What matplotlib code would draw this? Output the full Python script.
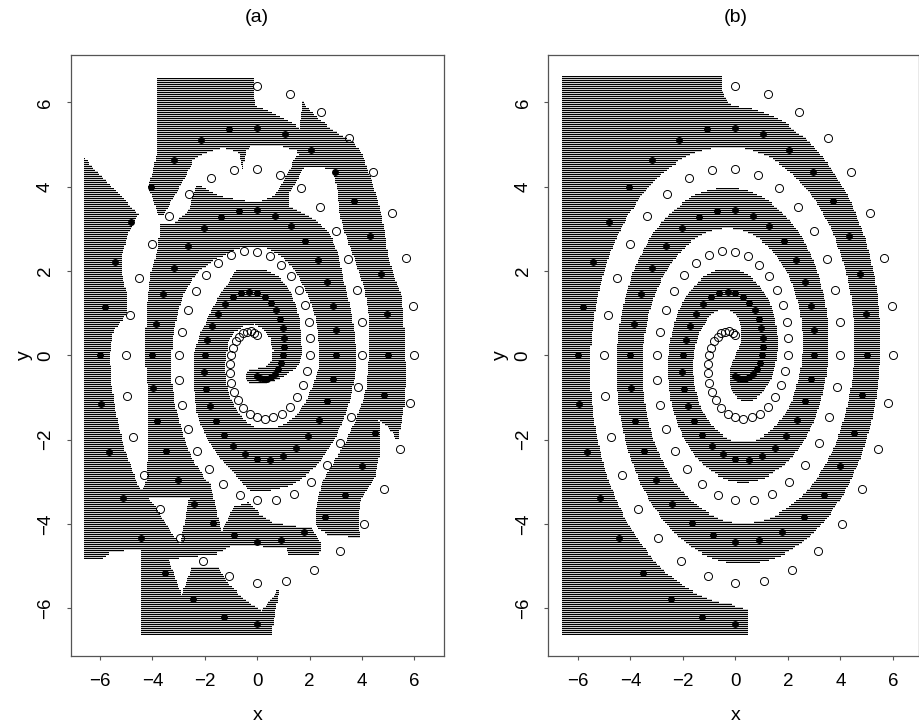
import numpy as np
import matplotlib
matplotlib.use("Agg")
import matplotlib.pyplot as plt
from matplotlib.path import Path

plt.rcParams['font.family'] = ['Liberation Sans Narrow', 'Liberation Sans', 'DejaVu Sans']

# ---------------- data: the two spirals ----------------
open_x = [0.00, 1.26, 2.44, 3.51, 4.42, 5.14, 5.66, 5.95, 6.00, 5.82, 5.43, 4.83, 4.07, 3.16, 2.15, 1.09,
          0.00, -1.06, -2.06, -2.95, -3.71, -4.31, -4.73, -4.97, -5.00, -4.84, -4.50, -4.00, -3.36, -2.60,
          -1.77, -0.89, 0.00, 0.87, 1.67, 2.40, 3.01, 3.48, 3.81, 3.98, 4.00, 3.86, 3.58, 3.17, 2.65, 2.05,
          1.39, 0.70, 0.00, -0.67, -1.29, -1.84, -2.30, -2.65, -2.89, -3.00, -3.00, -2.88, -2.66, -2.34,
          -1.94, -1.49, -1.00, -0.50, 0.00, 0.48, 0.91, 1.28, 1.59, 1.82, 1.96, 2.02, 2.00, 1.90, 1.73, 1.51,
          1.24, 0.94, 0.62, 0.30, 0.00, -0.28, -0.53, -0.73, -0.88, -0.99, -1.04, -1.04, -1.00, -0.92, -0.81,
          -0.68, -0.53, -0.38, -0.24, -0.11, 0.00]
open_y = [6.38, 6.20, 5.78, 5.15, 4.34, 3.38, 2.30, 1.16, 0.00, -1.14, -2.21, -3.17, -3.99, -4.64, -5.10,
          -5.36, -5.40, -5.24, -4.88, -4.34, -3.65, -2.83, -1.93, -0.97, 0.00, 0.95, 1.83, 2.63, 3.30, 3.83,
          4.20, 4.39, 4.42, 4.27, 3.97, 3.52, 2.95, 2.28, 1.55, 0.78, 0.00, -0.75, -1.46, -2.08, -2.60, -3.01,
          -3.29, -3.43, -3.44, -3.31, -3.06, -2.70, -2.26, -1.74, -1.17, -0.59, 0.00, 0.56, 1.08, 1.53, 1.91,
          2.19, 2.38, 2.47, 2.46, 2.35, 2.15, 1.89, 1.56, 1.19, 0.80, 0.40, 0.00, -0.37, -0.70, -0.99, -1.22,
          -1.38, -1.47, -1.50, -1.47, -1.38, -1.25, -1.07, -0.87, -0.65, -0.42, -0.20, 0.00, 0.18, 0.33, 0.44,
          0.52, 0.56, 0.57, 0.54, 0.49]
filled_x = [0.00, -1.26, -2.44, -3.51, -4.42, -5.14, -5.66, -5.95, -6.00, -5.82, -5.43, -4.83, -4.07, -3.16,
            -2.15, -1.09, 0.00, 1.06, 2.06, 2.95, 3.71, 4.31, 4.73, 4.97, 5.00, 4.84, 4.50, 4.00, 3.36, 2.60,
            1.77, 0.89, 0.00, -0.87, -1.67, -2.40, -3.01, -3.48, -3.81, -3.98, -4.00, -3.86, -3.58, -3.17,
            -2.65, -2.05, -1.39, -0.70, 0.00, 0.67, 1.29, 1.84, 2.30, 2.65, 2.89, 3.00, 3.00, 2.88, 2.66, 2.34,
            1.94, 1.49, 1.00, 0.50, 0.00, -0.48, -0.91, -1.28, -1.59, -1.82, -1.96, -2.02, -2.00, -1.90, -1.73,
            -1.51, -1.24, -0.94, -0.62, -0.30, 0.00, 0.28, 0.53, 0.73, 0.88, 0.99, 1.04, 1.04, 1.00, 0.92, 0.81,
            0.68, 0.53, 0.38, 0.24, 0.11, 0.00]
filled_y = [-6.38, -6.20, -5.78, -5.15, -4.34, -3.38, -2.30, -1.16, 0.00, 1.14, 2.21, 3.17, 3.99, 4.64, 5.10,
            5.36, 5.40, 5.24, 4.88, 4.34, 3.65, 2.83, 1.93, 0.97, 0.00, -0.95, -1.83, -2.63, -3.30, -3.83,
            -4.20, -4.39, -4.42, -4.27, -3.97, -3.52, -2.95, -2.28, -1.55, -0.78, 0.00, 0.75, 1.46, 2.08, 2.60,
            3.01, 3.29, 3.43, 3.44, 3.31, 3.06, 2.70, 2.26, 1.74, 1.17, 0.59, 0.00, -0.56, -1.08, -1.53, -1.91,
            -2.19, -2.38, -2.47, -2.46, -2.35, -2.15, -1.89, -1.56, -1.19, -0.80, -0.40, 0.00, 0.37, 0.70, 0.99,
            1.22, 1.38, 1.47, 1.50, 1.47, 1.38, 1.25, 1.07, 0.87, 0.65, 0.42, 0.20, 0.00, -0.18, -0.33, -0.44,
            -0.52, -0.56, -0.57, -0.54, -0.49]

# ---------------- data: decision region of panel (a) ----------------
region_a_left = [(-6.61, 4.68), (-4.54, 3.35), (-4.92, 2.88), (-5.17, 2.40), (-5.17, 1.93), (-4.98, 1.45),
                 (-4.98, 0.98), (-5.49, 0.58), (-5.62, 0.00), (-5.56, -0.68), (-5.36, -1.47), (-5.05, -2.26),
                 (-4.67, -2.89), (-4.45, -3.20), (-4.24, -3.00), (-4.20, -4.62), (-5.62, -4.67), (-5.94, -4.83),
                 (-6.61, -4.83)]
region_a_col = [(-3.78, 2.56), (-2.95, 2.70), (-2.82, 1.45), (-3.01, 1.06), (-3.18, 0.58), (-3.27, 0.00),
                (-3.27, -0.58), (-3.14, -1.17), (-2.95, -1.60), (-2.70, -2.10), (-2.38, -2.58), (-1.93, -2.97),
                (-1.81, -3.01), (-1.36, -4.17), (-0.90, -3.60), (-0.34, -3.49), (0.10, -3.76), (0.61, -3.96),
                (1.76, -4.08), (2.07, -4.08), (2.45, -4.47), (2.39, -4.71), (1.18, -4.75), (1.12, -4.59),
                (-0.66, -4.51), (-1.00, -4.55), (-1.50, -4.70), (-2.60, -4.77), (-3.39, -4.83), (-4.00, -4.80),
                (-4.33, -4.70), (-4.33, -3.30), (-4.27, -3.13), (-4.22, -2.74), (-4.16, -2.02), (-4.16, -1.47),
                (-4.20, -0.68), (-4.28, 0.00), (-4.25, 0.66), (-4.20, 1.30), (-4.07, 1.93)]
region_a_hole = [(-4.16, -3.35), (-2.59, -3.38), (-2.95, -4.49)]
region_a_bottom = [(-4.41, -4.50), (-3.39, -4.80), (-2.89, -5.70), (-2.50, -5.03), (-1.49, -5.03),
                   (-1.04, -5.46), (-0.41, -5.82), (0.17, -6.06), (0.84, -5.52), (0.55, -6.61), (-4.41, -6.61)]
region_a_top = [(-3.84, 6.58), (-0.13, 6.58), (-0.09, 5.92), (0.48, 5.79), (1.37, 5.49), (1.60, 5.39),
                (1.75, 6.00), (2.33, 5.60), (3.03, 5.29), (3.60, 5.09), (3.98, 4.81), (4.23, 4.38), (4.49, 3.91),
                (4.74, 3.35), (4.87, 2.88), (5.00, 2.32), (5.19, 1.93), (5.50, 1.45), (5.59, 0.90), (5.63, 0.00),
                (5.70, -0.36), (5.59, -1.31), (5.38, -2.02), (4.93, -1.67), (4.65, -1.55), (4.70, -2.26),
                (4.49, -2.89), (3.98, -3.37), (3.85, -3.84), (3.92, -4.32), (3.03, -4.28), (2.77, -4.28),
                (2.26, -4.08), (2.20, -3.84), (2.27, -3.55), (2.48, -3.00), (2.85, -2.60), (3.30, -2.15),
                (3.75, -1.55), (4.14, -0.88), (4.27, 0.00), (4.30, 0.76), (4.11, 1.55), (3.72, 2.27), (3.31, 2.95),
                (3.15, 3.35), (3.05, 3.91), (2.90, 4.42), (2.39, 4.47), (1.75, 4.46), (1.50, 4.85), (0.99, 4.95),
                (-0.28, 4.95), (-0.41, 4.85), (-0.56, 4.42), (-0.72, 4.81), (-1.30, 4.93), (-1.68, 4.85),
                (-2.19, 4.74), (-2.44, 4.62), (-2.76, 4.22), (-3.14, 3.79), (-3.58, 3.35), (-3.74, 3.30),
                (-3.97, 3.67), (-4.16, 3.98), (-3.99, 4.34), (-3.84, 4.77)]
region_a_band = [(-3.71, 3.11), (-3.20, 3.11), (-2.63, 3.43), (-2.44, 3.79), (-2.29, 4.06), (-1.93, 3.94),
                 (-1.42, 3.76), (-0.79, 3.68), (0.10, 3.60), (0.23, 3.67), (0.61, 3.76), (0.86, 3.98), (1.18, 4.34),
                 (1.50, 4.74), (1.82, 4.50), (1.50, 4.14), (1.22, 3.83), (1.25, 3.55), (2.26, 3.19), (2.77, 2.88),
                 (3.09, 2.40), (3.25, 1.93), (3.43, 1.45), (3.60, 0.98), (3.72, 0.51), (3.79, 0.00), (3.76, -0.36),
                 (3.60, -0.92), (3.34, -1.47), (2.96, -1.98), (2.45, -2.50), (1.88, -2.85), (1.25, -3.09),
                 (0.48, -3.21), (-0.28, -3.21), (-0.66, -2.95), (-1.17, -2.62), (-1.55, -2.34), (-1.87, -2.02),
                 (-2.12, -1.71), (-2.30, -1.40), (-2.40, -0.90), (-2.44, 0.00), (-2.19, 0.51), (-1.81, 0.98),
                 (-1.42, 1.45), (-0.79, 2.01), (0.10, 2.01), (0.36, 2.01), (0.93, 1.81), (1.25, 1.53), (1.47, 1.18),
                 (1.63, 0.78), (1.69, 0.35), (1.72, 0.00), (1.50, -0.28), (0.99, -0.52), (0.48, -0.64),
                 (-0.03, -0.68), (-0.28, -0.68), (-0.45, -0.50), (-0.30, -0.32), (0.00, -0.30), (0.30, -0.28),
                 (0.55, -0.10), (0.60, 0.10), (0.50, 0.40), (0.25, 0.62), (-0.10, 0.75), (-0.50, 0.72),
                 (-0.85, 0.55), (-1.10, 0.30), (-1.17, 0.00), (-1.23, -0.21), (-1.17, -0.68), (-1.04, -1.00),
                 (-0.66, -1.40), (-0.35, -1.60), (0.00, -1.75), (0.60, -1.75), (1.10, -1.62), (1.50, -1.42),
                 (1.85, -1.10), (2.10, -0.75), (2.35, -0.30), (2.39, 0.00), (2.33, 0.51), (2.20, 0.90),
                 (2.01, 1.30), (1.75, 1.69), (1.44, 2.01), (0.99, 2.32), (0.36, 2.56), (-0.28, 2.60),
                 (-0.66, 2.56), (-1.17, 2.40), (-1.68, 2.25), (-2.19, 2.01), (-2.50, 1.77), (-2.82, 1.45),
                 (-2.95, 2.70), (-3.78, 2.56)]

# corrections to panel (b)
region_b_top = [(-1.70, 6.60), (-0.53, 6.60), (-0.50, 6.28), (-0.34, 6.04), (0.04, 5.84), (0.67, 5.76),
                (0.50, 5.50), (-1.70, 5.50)]
region_b_clear = [(0.48, -6.70), (0.48, -6.02), (0.04, -5.98), (-0.41, -5.78), (-0.85, -5.58), (-0.70, -5.30),
                  (1.50, -5.30), (2.50, -6.70)]

axis_ticks = [-6, -4, -2, 0, 2, 4, 6]
titles = ['(a)', '(b)']

# ---------------- prediction grid ----------------
step = 0.05
grid = np.round(np.arange(-6.6, 6.6001, step), 3)
n = len(grid)
GX, GY = np.meshgrid(grid, grid)
pts = np.column_stack([GX.ravel(), GY.ravel()])

mask_a = np.zeros(len(pts), dtype=bool)
for poly in [region_a_left, region_a_col, region_a_bottom, region_a_top, region_a_band]:
    mask_a |= Path(poly).contains_points(pts)
mask_a &= ~Path(region_a_hole).contains_points(pts)

# panel (b): smooth kernel classifier of the two spirals
fx, fy = np.array(filled_x), np.array(filled_y)
ox, oy = np.array(open_x), np.array(open_y)
sig = 0.5
kf = np.exp(-((pts[:, 0, None] - fx) ** 2 + (pts[:, 1, None] - fy) ** 2) / (2 * sig ** 2)).sum(1)
ko = np.exp(-((pts[:, 0, None] - ox) ** 2 + (pts[:, 1, None] - oy) ** 2) / (2 * sig ** 2)).sum(1)
mask_b = kf > ko
mask_b |= Path(region_b_top).contains_points(pts)
mask_b &= ~Path(region_b_clear).contains_points(pts)


def shade_image(fig, ax, mask):
    """Render the predicted grid cells as fine 1-pixel horizontal rows, pixel-aligned."""
    m2 = mask.reshape(n, n)
    x0, y0, x1, y1 = ax.bbox.extents
    c0, c1 = int(np.floor(x0)), int(np.ceil(x1))
    r0, r1 = int(np.floor(y0)), int(np.ceil(y1))
    cols = np.arange(c0, c1)
    rows = np.arange(r0, r1)
    inv = ax.transData.inverted()
    xs = inv.transform(np.column_stack([cols + 0.5, np.full(len(cols), r0 + 0.5)]))[:, 0]
    ys = inv.transform(np.column_stack([np.full(len(rows), c0 + 0.5), rows + 0.5]))[:, 1]
    ix = np.clip(np.round((xs - grid[0]) / step).astype(int), 0, n - 1)
    iy = np.clip(np.round((ys - grid[0]) / step).astype(int), 0, n - 1)
    vx = np.abs(xs) <= 6.6 + step / 2
    vy = np.abs(ys) <= 6.6 + step / 2
    M = m2[np.ix_(iy, ix)] & vy[:, None] & vx[None, :]
    stripe = (rows % 2 == 0)[:, None]
    val = np.where(stripe, 0.0, 0.8) * np.ones((1, len(cols)))
    rgba = np.zeros((len(rows), len(cols), 4))
    rgba[..., 0] = val
    rgba[..., 1] = val
    rgba[..., 2] = val
    rgba[..., 3] = M.astype(float)
    fig.figimage(rgba[::-1], xo=c0, yo=r0, origin='upper', zorder=0)


# ---------------- figure ----------------
W, H = 919, 725
fig = plt.figure(figsize=(W / 100, H / 100), dpi=100)
axA = fig.add_axes([70.5 / W, 1 - 656 / H, (444 - 70.5) / W, (656 - 54.7) / H])
axB = fig.add_axes([548.3 / W, 1 - 656 / H, (918.5 - 548.3) / W, (656 - 54.7) / H])

spine_col = '#555555'
for ax, mask, xr, ttl, cx in [(axA, mask_a, (-7.128, 7.128), titles[0], 257.3),
                               (axB, mask_b, (-7.128, 6.975), titles[1], 735.5)]:
    ax.set_zorder(1)
    ax.patch.set_alpha(0.0)
    ax.plot(filled_x, filled_y, linestyle='none', marker='o', markersize=5.0, color='black',
            markeredgewidth=0, zorder=3)
    ax.plot(open_x, open_y, linestyle='none', marker='o', markersize=5.8, markerfacecolor='none',
            markeredgecolor='black', markeredgewidth=0.7, zorder=3)
    ax.set_xlim(*xr)
    ax.set_ylim(-7.13, 7.13)
    ax.set_xticks(axis_ticks)
    ax.set_yticks(axis_ticks)
    ax.set_xticklabels([str(t).replace('-', '\u2212') for t in axis_ticks])
    ax.set_yticklabels([str(t).replace('-', '\u2212') for t in axis_ticks], rotation=90, va='center')
    ax.tick_params(direction='out', length=3.0, width=0.8, color=spine_col, labelsize=13.5, pad=9)
    for s in ax.spines.values():
        s.set_color(spine_col)
        s.set_linewidth(0.9)
    shade_image(fig, ax, mask)
    fig.text(cx / W, 1 - 18 / H, ttl, ha='center', va='center', fontsize=14)
    fig.text(cx / W, 1 - 716 / H, 'x', ha='center', va='center', fontsize=14)

fig.text(24 / W, 1 - 355 / H, 'y', ha='center', va='center', fontsize=14, rotation=90)
fig.text(500 / W, 1 - 355 / H, 'y', ha='center', va='center', fontsize=14, rotation=90)

fig.savefig('out.png', dpi=100, facecolor='white')
